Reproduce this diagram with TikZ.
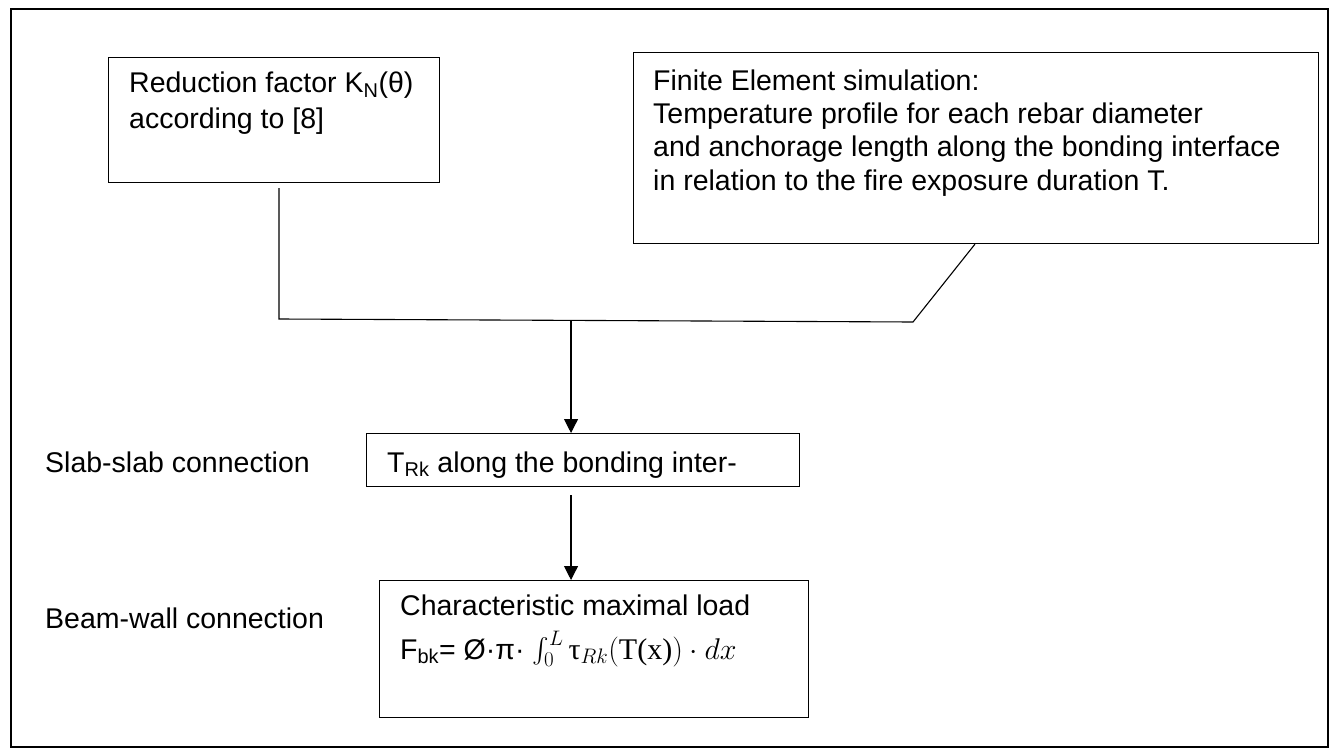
\documentclass[tikz,border=0pt]{standalone}
\usepackage{fix-cm}
\usepackage{amsmath}
\usepackage{fontspec}
\setmainfont{Liberation Sans}
\newfontfamily\serifg{Liberation Serif}
\usetikzlibrary{arrows.meta,calc}
\begin{document}
\begin{tikzpicture}[x=1pt,y=-1pt,
  box/.style={draw=black, line width=1.1pt, rectangle, inner sep=0pt, anchor=north west},
  txt/.style={inner sep=0pt, anchor=base west, font=\fontsize{28.5pt}{33pt}\selectfont},
  conn/.style={draw=black, line width=1.1pt},
  arr/.style={conn, -{Triangle[width=14pt,length=14pt]}}]
\useasboundingbox (0,0) rectangle (1333,749);
% outer frame
\node[draw=black, line width=2.2pt, rectangle, inner sep=0pt, anchor=north west,
      minimum width=1317pt, minimum height=738pt] (frame) at (10,8) {};
% boxes
\node[box, minimum width=331pt, minimum height=125pt] (boxA) at (108,57) {};
\node[box, minimum width=685pt, minimum height=191pt] (boxB) at (633,52) {};
\node[box, minimum width=433pt, minimum height=53pt]  (boxC) at (366,433) {};
\node[box, minimum width=429pt, minimum height=137pt] (boxD) at (379,580) {};
% texts
\node[txt] (tA1) at (129,93)  {Reduction factor K\textsubscript{N}(θ)};
\node[txt] (tA2) at (129,129) {according to [8]};
\node[txt] (tB1) at (653,91)  {Finite Element simulation:};
\node[txt] (tB2) at (653,124) {Temperature profile for each rebar diameter};
\node[txt] (tB3) at (653,157) {and anchorage length along the bonding interface};
\node[txt] (tB4) at (653,190) {in relation to the fire exposure duration T.};
\node[txt] (tC)  at (387,472) {T\textsubscript{Rk} along the bonding inter-};
\node[txt] (lS)  at (45,472)  {Slab-slab connection};
\node[txt] (lB)  at (45,628)  {Beam-wall connection};
\node[txt] (tD1) at (400,615) {Characteristic maximal load};
\node[txt] (tD2) at (400,659) {F\textsubscript{bk}= Ø·π· {\fontsize{30pt}{33pt}\selectfont$\int_0^{L}\text{\serifg τ}_{Rk}(\text{\serifg T(x)})\cdot dx$}};
% connectors
\coordinate (j1) at (279,319);
\coordinate (j2) at (913,322);
\coordinate (bB) at ([xshift=342pt]boxB.south west);
\draw[conn] ($(boxA.south -| j1)+(0,5)$) -- (j1) -- (j2) -- (bB);
\coordinate (m) at ($(j1)!0.4606!(j2)$);
\draw[arr] (m) -- (m |- boxC.north);
\draw[arr] ($(m |- boxC.south)+(0,8)$) -- (m |- boxD.north);
\end{tikzpicture}
\end{document}
